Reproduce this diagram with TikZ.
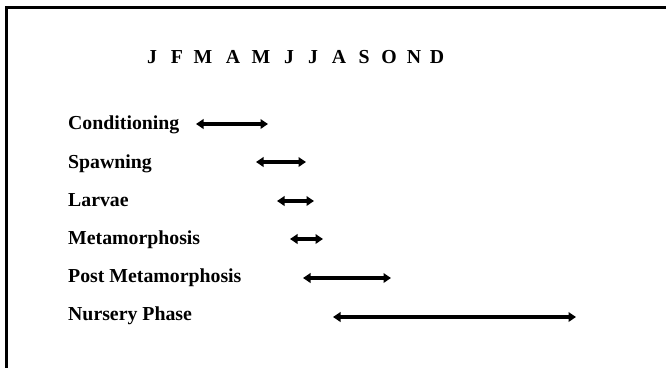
\documentclass[tikz,border=0pt]{standalone}
\usepackage{fontspec}
\setmainfont{Liberation Serif}
\usetikzlibrary{arrows.meta}
\begin{document}
\begin{tikzpicture}[x=1bp,y=-1bp,
  lbl/.style={anchor=base west,inner sep=0pt,font=\fontsize{19.8bp}{22bp}\selectfont\bfseries},
  mon/.style={anchor=base,inner sep=0pt,font=\fontsize{19.8bp}{22bp}\selectfont\bfseries},
  period/.style={line width=3.2bp,{Triangle[length=7.5bp,width=9.5bp]}-{Triangle[length=7.5bp,width=9.5bp]}},
  frame/.style={line width=3bp}]
\useasboundingbox (0,0) rectangle (666,368);
% frame (top and left edges only)
\coordinate (fTR) at (666,7);
\coordinate (fTL) at (6.3,7);
\coordinate (fBL) at (6.3,368);
\draw[frame] (fTR) -- (fTL) -- (fBL);
% months
\foreach \m/\x [count=\i] in {J/152,F/177,M/203,A/233,M/261,J/289,J/313,A/339,S/364,O/389,N/414,D/437}
  \node[mon] (m\i) at (\x,63) {\m};
% labels
\node[lbl] (cond) at (68,129) {Conditioning};
\node[lbl] (spawn) at (68,168) {Spawning};
\node[lbl] (larv) at (68,206) {Larvae};
\node[lbl] (meta) at (68,244) {Metamorphosis};
\node[lbl] (post) at (68,282) {Post Metamorphosis};
\node[lbl] (nurs) at (68,320) {Nursery Phase};
% period end points
\coordinate (c1) at (196,124); \coordinate (c2) at (268,124);
\coordinate (s1) at (256,162); \coordinate (s2) at (306,162);
\coordinate (l1) at (277,201); \coordinate (l2) at (314,201);
\coordinate (t1) at (290,239); \coordinate (t2) at (323,239);
\coordinate (p1) at (303,278); \coordinate (p2) at (391,278);
\coordinate (n1) at (333,317); \coordinate (n2) at (576,317);
\draw[period] (c1) -- (c2);
\draw[period] (s1) -- (s2);
\draw[period] (l1) -- (l2);
\draw[period] (t1) -- (t2);
\draw[period] (p1) -- (p2);
\draw[period] (n1) -- (n2);
\end{tikzpicture}
\end{document}
